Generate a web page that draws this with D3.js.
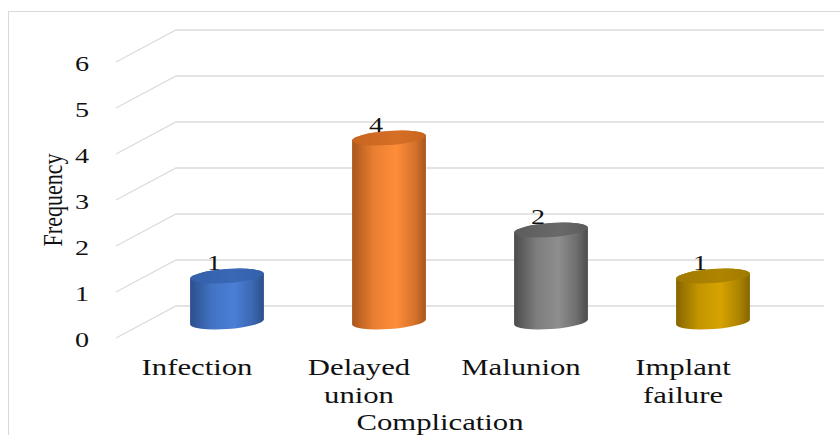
<!DOCTYPE html>
<html>
<head>
<meta charset="utf-8">
<script src="https://cdn.jsdelivr.net/npm/d3@7"></script>
<style>
  body { margin: 0; background: #fff; }
  text { font-family: "Liberation Serif", "Times New Roman", serif; fill: #111; }
</style>
</head>
<body>
<svg id="chart" width="840" height="435"></svg>
<script>
// Chart data
const categories = ["Infection", "Delayed union", "Malunion", "Implant failure"];
const frequencies = [1, 4, 2, 1];
const yTicks = [0, 1, 2, 3, 4, 5, 6];
const barColors = [
    { dark: "#2b4f8c", mid: "#4a7fd6", top: "#3460aa" },
    { dark: "#a9561b", mid: "#ff8d3a", top: "#c8651f" },
    { dark: "#4b4b4b", mid: "#8e8e8e", top: "#5c5c5c" },
    { dark: "#866500", mid: "#d6a300", top: "#a07a00" }
];

const svg = d3.select("#chart");

// The picture is stretched sideways, so text is too
const textStretch = 1.28;

// Back wall scales
const x = d3.scaleBand().domain(categories).range([176, 824]);
const y = d3.scaleLinear().domain([0, 6]).range([306, 30]);

// Depth offset of the front edge of the floor
const depthX = -60, depthY = 32;

// Outer frame
svg.append("rect")
    .attr("x", 8.5).attr("y", 11.5)
    .attr("width", 840).attr("height", 440)
    .attr("fill", "none")
    .attr("stroke", "#d9d9d9");

// Gridlines: side wall diagonal + back wall line
svg.append("g").selectAll("polyline")
    .data(yTicks)
    .enter()
    .append("polyline")
    .attr("points", d => [
        [x.range()[0] + depthX, y(d) + depthY],
        [x.range()[0], y(d)],
        [x.range()[1], y(d)]
    ].map(p => p.join(",")).join(" "))
    .attr("fill", "none")
    .attr("stroke", "#dcdcdc")
    .attr("stroke-width", 1.3);

// Tick labels
svg.append("g").selectAll("text")
    .data(yTicks)
    .enter()
    .append("text")
    .attr("transform", d => `translate(89,${y(d) + depthY + 9}) scale(${textStretch},1)`)
    .attr("text-anchor", "end")
    .style("font-size", "22px")
    .text(d => d);

// Gradients for the cylinders
const defs = svg.append("defs");
barColors.forEach((c, i) => {
    const g = defs.append("linearGradient")
        .attr("id", "body" + i)
        .attr("x1", 0).attr("x2", 1).attr("y1", 0).attr("y2", 0);
    g.append("stop").attr("offset", 0).attr("stop-color", c.dark);
    g.append("stop").attr("offset", 0.3).attr("stop-color", d3.interpolateRgb(c.dark, c.mid)(0.75));
    g.append("stop").attr("offset", 0.6).attr("stop-color", c.mid);
    g.append("stop").attr("offset", 0.85).attr("stop-color", d3.interpolateRgb(c.mid, c.dark)(0.5));
    g.append("stop").attr("offset", 1).attr("stop-color", c.dark);
    const t = defs.append("linearGradient")
        .attr("id", "top" + i)
        .attr("x1", 0).attr("x2", 1).attr("y1", 0).attr("y2", 0);
    t.append("stop").attr("offset", 0).attr("stop-color", c.top);
    t.append("stop").attr("offset", 0.6).attr("stop-color", d3.interpolateRgb(c.top, c.mid)(0.25));
    t.append("stop").attr("offset", 1).attr("stop-color", c.top);
});

// Cylinder geometry
const rx = 37, ry = 7, tilt = -4;
const cosT = Math.cos(tilt * Math.PI / 180), sinT = Math.sin(tilt * Math.PI / 180);

function cylinderBody(cx, yBase, yTop) {
    const lx = cx - rx * cosT, rxp = cx + rx * cosT;
    const ly = -rx * sinT, ryp = rx * sinT;
    return `M${lx},${yTop + ly} L${lx},${yBase + ly} ` +
        `A${rx},${ry} ${tilt} 0 0 ${rxp},${yBase + ryp} ` +
        `L${rxp},${yTop + ryp} ` +
        `A${rx},${ry} ${tilt} 0 0 ${lx},${yTop + ly} Z`;
}

const barData = categories.map((c, i) => ({
    name: c,
    value: frequencies[i],
    index: i,
    cx: x(c) + x.bandwidth() / 2 + depthX / 2,
    base: y(0) + depthY / 2,
    top: y(frequencies[i]) + depthY / 2
}));

const bars = svg.append("g").selectAll("g")
    .data(barData)
    .enter()
    .append("g");

bars.append("path")
    .attr("d", d => cylinderBody(d.cx, d.base, d.top))
    .attr("fill", d => `url(#body${d.index})`);

bars.append("ellipse")
    .attr("cx", d => d.cx)
    .attr("cy", d => d.top)
    .attr("rx", rx)
    .attr("ry", ry)
    .attr("transform", d => `rotate(${tilt},${d.cx},${d.top})`)
    .attr("fill", d => `url(#top${d.index})`);

// Value labels
bars.append("text")
    .attr("transform", d => `translate(${d.cx - 13},${d.top - 6}) scale(${textStretch},1)`)
    .attr("text-anchor", "middle")
    .style("font-size", "22px")
    .text(d => d.value);

// Category labels on the front edge
const catLabels = svg.append("g").selectAll("text")
    .data(categories)
    .enter()
    .append("text")
    .attr("transform", d => `translate(${x(d) + x.bandwidth() / 2 + depthX},375) scale(${textStretch},1)`)
    .attr("text-anchor", "middle")
    .style("font-size", "24px");

catLabels.selectAll("tspan")
    .data(d => d.split(" "))
    .enter()
    .append("tspan")
    .attr("x", 0)
    .attr("dy", (d, i) => i === 0 ? 0 : 28)
    .text(d => d);

// Axis titles
svg.append("text")
    .attr("transform", `translate(${(x.range()[0] + x.range()[1]) / 2 + depthX},430) scale(${textStretch},1)`)
    .attr("text-anchor", "middle")
    .style("font-size", "24px")
    .text("Complication");

svg.append("text")
    .attr("transform", `translate(62,200) scale(${textStretch},1) rotate(-90)`)
    .attr("text-anchor", "middle")
    .style("font-size", "22px")
    .text("Frequency");
</script>
</body>
</html>
